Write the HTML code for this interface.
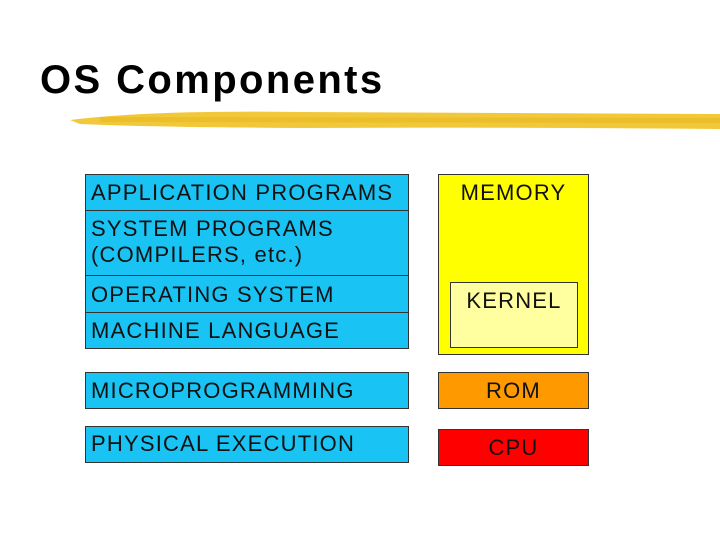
<!DOCTYPE html>
<html><head><style>
body{margin:0;width:720px;height:540px;background:#fff;position:relative;overflow:hidden;font-family:"Liberation Sans",sans-serif}
.b{position:absolute;box-sizing:border-box;border:1px solid #333;font-size:22px;letter-spacing:1.2px;color:#111;padding-left:5px;line-height:26px}
.c{background:#19c3f3}
.t{position:absolute;left:40px;top:58px;font-size:40px;font-weight:bold;letter-spacing:2.4px}
</style></head><body>
<div class="t">OS Components</div>
<svg style="position:absolute;left:0;top:0" width="720" height="540">
<path d="M70 120 Q150 110 300 112 L720 114 L720 129 Q500 127 300 128 Q150 127 80 124 Z" fill="#f1c83a"/>
<path d="M100 117 L720 118 L720 123 L100 122Z" fill="#e8b820" opacity="0.6"/>
</svg>
<div class="b c" style="left:85px;top:174px;width:324px;height:37px;padding-top:5px">APPLICATION PROGRAMS</div>
<div class="b c" style="left:85px;top:210px;width:324px;height:66px;padding-top:5px">SYSTEM PROGRAMS<br>(COMPILERS, etc.)</div>
<div class="b c" style="left:85px;top:275px;width:324px;height:38px;padding-top:6px">OPERATING SYSTEM</div>
<div class="b c" style="left:85px;top:312px;width:324px;height:37px;padding-top:5px">MACHINE LANGUAGE</div>
<div class="b c" style="left:85px;top:372px;width:324px;height:37px;padding-top:5px">MICROPROGRAMMING</div>
<div class="b c" style="left:85px;top:426px;width:324px;height:37px;padding-top:4px">PHYSICAL EXECUTION</div>
<div class="b" style="left:438px;top:174px;width:151px;height:181px;background:#ffff00;text-align:center;padding:5px 0 0">MEMORY</div>
<div class="b" style="left:450px;top:282px;width:128px;height:66px;background:#ffffa0;text-align:center;padding:5px 0 0">KERNEL</div>
<div class="b" style="left:438px;top:372px;width:151px;height:37px;background:#ff9900;text-align:center;padding:5px 0 0">ROM</div>
<div class="b" style="left:438px;top:429px;width:151px;height:37px;background:#ff0000;text-align:center;padding:5px 0 0">CPU</div>
</body></html>
